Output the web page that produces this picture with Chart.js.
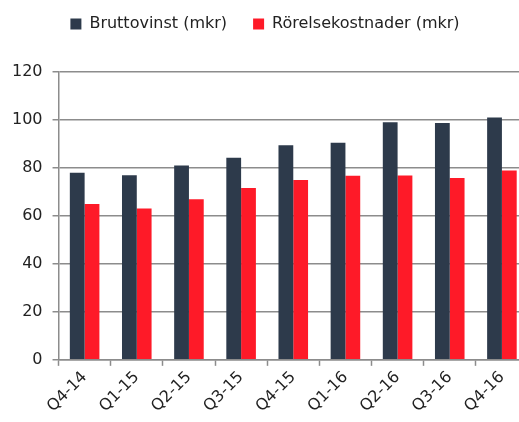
<!DOCTYPE html>
<html>
<head>
<meta charset="utf-8">
<script src="https://cdn.jsdelivr.net/npm/chart.js@4"></script>
<style>
  html, body { margin: 0; padding: 0; background: #fff; overflow: hidden; }
  #wrap { width: 528px; height: 422px; }
</style>
</head>
<body>
<div id="wrap"><canvas id="chart" width="528" height="422"></canvas></div>
<script>
// Data
const quarters = ['Q4-14', 'Q1-15', 'Q2-15', 'Q3-15', 'Q4-15', 'Q1-16', 'Q2-16', 'Q3-16', 'Q4-16'];
const bruttovinst = [78, 77, 81, 84.3, 89.5, 90.5, 99, 98.7, 101];
const rorelsekostnader = [65, 63.1, 67, 71.6, 75, 76.7, 76.9, 75.8, 78.9];
const yTicks = [0, 20, 40, 60, 80, 100, 120];

const gridColor = '#8c8c8c';
const textColor = '#222';
Chart.defaults.font.family = '"DejaVu Sans", sans-serif';
Chart.defaults.font.size = 16;
Chart.defaults.color = textColor;

// leave a bit more room under the legend
const legendGap = {
    id: 'legendGap',
    beforeInit(chart) {
        const fit = chart.legend.fit;
        chart.legend.fit = function () {
            fit.bind(this)();
            this.height += 30;
        };
    }
};

const ctx = document.getElementById('chart').getContext('2d');

new Chart(ctx, {
    type: 'bar',
    data: {
        labels: quarters,
        datasets: [{
            label: 'Bruttovinst (mkr)',
            data: bruttovinst,
            backgroundColor: '#2d3a4b',
            categoryPercentage: 0.567,
            barPercentage: 1.0
        }, {
            label: 'Rörelsekostnader (mkr)',
            data: rorelsekostnader,
            backgroundColor: '#fe1a28',
            categoryPercentage: 0.567,
            barPercentage: 1.0
        }]
    },
    plugins: [legendGap],
    options: {
        responsive: false,
        animation: false,
        layout: { padding: { left: 2, top: -10, right: 0, bottom: 4 } },
        plugins: {
            tooltip: { enabled: false },
            legend: {
                position: 'top',
                labels: {
                    boxWidth: 11,
                    boxHeight: 11,
                    padding: 26,
                    color: textColor,
                    font: { size: 16 }
                }
            }
        },
        scales: {
            x: {
                grid: {
                    drawOnChartArea: false,
                    drawTicks: true,
                    tickLength: 6,
                    tickWidth: 1.5,
                    tickColor: gridColor,
                    offset: true
                },
                border: { color: gridColor, width: 1.5 },
                ticks: {
                    maxRotation: 45,
                    minRotation: 45,
                    padding: 2,
                    color: textColor,
                    font: { size: 16 }
                }
            },
            y: {
                min: 0,
                max: 120,
                afterBuildTicks: (axis) => {
                    axis.ticks = yTicks.map(v => ({ value: v }));
                },
                grid: {
                    color: gridColor,
                    lineWidth: 1.5,
                    tickLength: 6
                },
                border: { color: gridColor, width: 1.5 },
                ticks: {
                    padding: 10,
                    color: textColor,
                    font: { size: 16 }
                }
            }
        }
    }
});
</script>
</body>
</html>
